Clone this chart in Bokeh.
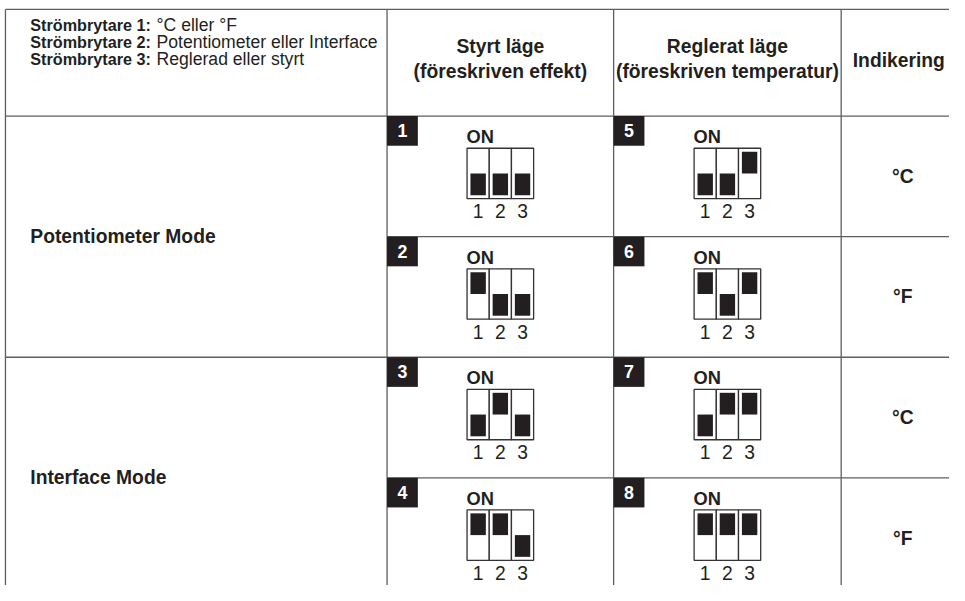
from bokeh.plotting import figure
from bokeh.models import Range1d
from bokeh.core.properties import value
from bokeh.embed import file_html
from bokeh.resources import INLINE

# ---------------- data ----------------
switch_names = ["Strömbrytare 1:", "Strömbrytare 2:", "Strömbrytare 3:"]
switch_meanings = ["°C eller °F", "Potentiometer eller Interface", "Reglerad eller styrt"]
column_titles = [["Styrt läge", "(föreskriven effekt)"],
                 ["Reglerat läge", "(föreskriven temperatur)"],
                 ["Indikering"]]
mode_labels = ["Potentiometer Mode", "Interface Mode"]
indications = ["°C", "°F", "°C", "°F"]
setting_numbers = [1, 2, 3, 4, 5, 6, 7, 8]
switch1_on = [0, 1, 0, 1, 0, 1, 0, 1]
switch2_on = [0, 0, 1, 1, 0, 0, 1, 1]
switch3_on = [0, 0, 0, 0, 1, 1, 1, 1]
dip_labels = ["1", "2", "3"]
on_label = "ON"

# ---------------- layout / style ----------------
FONT = "Liberation Sans"
INK = "#231f20"
GRID = "#5e5e5e"
W, H = 949, 585                   # figure size (fits the window with the page margin)
X0, X1, Y0, Y1 = 0, 955, 0, 592   # layout units (reference pixels) shown in the figure
S = 0.99                          # font scale so layout units fit the figure


def fs(px):
    return value(f"{px * S:.1f}px")


TXT = dict(text_font=value(FONT), text_color=INK, text_baseline="middle")

col_edges = [5, 389, 617, 846, 972]
top = 9
header_bottom = 117
row_h = 122
rows_top = [header_bottom + i * row_h for i in range(4)]
bottom = Y1

p = figure(width=W, height=H, x_range=Range1d(X0, X1), y_range=Range1d(Y1, Y0),
           output_backend="svg", toolbar_location=None, min_border=0,
           x_axis_location=None, y_axis_location=None)
p.grid.visible = False
p.outline_line_color = None
p.background_fill_color = "white"
p.border_fill_color = "white"

# ---- table lines ----
hx0 = [col_edges[0], col_edges[0], col_edges[0], col_edges[1], col_edges[1]]
hx1 = [col_edges[-1]] * 5
hy = [top, header_bottom, rows_top[2], rows_top[1], rows_top[3]]
p.segment(x0=hx0, y0=hy, x1=hx1, y1=hy, line_color=GRID, line_width=1.3)
vx = col_edges[:4]
p.segment(x0=vx, y0=[top] * 4, x1=vx, y1=[bottom] * 4, line_color=GRID, line_width=1.3)

# ---- header texts (y = vertical centre of capitals) ----
hl_y = [25, 42, 59]
p.text(x=[30] * 3, y=hl_y, text=switch_names, text_font_size=fs(16.4),
       text_font_style="bold", text_align="left", **TXT)
p.text(x=[157] * 3, y=hl_y, text=switch_meanings, text_font_size=fs(17.8),
       text_align="left", **TXT)

tx, ty, tt = [], [], []
for ci, lines in enumerate(column_titles):
    cx = (col_edges[ci + 1] + min(col_edges[ci + 2], 962)) / 2
    if len(lines) == 1:
        tx.append(cx); ty.append(61); tt.append(lines[0])
    else:
        for li, s in enumerate(lines):
            tx.append(cx); ty.append(47 + li * 25); tt.append(s)
p.text(x=tx, y=ty, text=tt, text_font_size=fs(19.5), text_font_style="bold",
       text_align="center", **TXT)

# ---- mode labels ----
my = [rows_top[2 * i] + row_h - 0.5 for i in range(2)]
p.text(x=[30] * 2, y=my, text=mode_labels, text_font_size=fs(19.5),
       text_font_style="bold", text_align="left", **TXT)

# ---- indications ----
ic = (col_edges[3] + 970) / 2
iy = [rt + row_h / 2 for rt in rows_top]
p.text(x=[ic] * 4, y=iy, text=indications, text_font_size=fs(19.5),
       text_font_style="bold", text_align="center", **TXT)

# ---- DIP switch diagrams ----
bw, bh_top, bh_bot = 67.0, 32.5, 83.5
cw = bw / 3
kw, kh, kin = 15.5, 22.0, 3.5
badge_l, badge_r, badge_t, badge_b, badge_tx, badge_ty = [], [], [], [], [], []
on_x, on_y = [], []
cell_l, cell_r, cell_t, cell_b = [], [], [], []
kn_l, kn_r, kn_t, kn_b = [], [], [], []
dg_x, dg_y, dg_t = [], [], []
for k, num in enumerate(setting_numbers):
    col = 1 + k // 4
    r = k % 4
    T = rows_top[r]
    cl, cr = col_edges[col], col_edges[col + 1]
    C = (cl + cr) / 2
    bl = C - bw / 2
    badge_l.append(cl); badge_r.append(cl + 31); badge_t.append(T); badge_b.append(T + 30)
    badge_tx.append(cl + 15.5); badge_ty.append(T + 14.5)
    on_x.append(bl - 0.5); on_y.append(T + 21)
    states = [switch1_on[k], switch2_on[k], switch3_on[k]]
    for j in range(3):
        l = bl + j * cw
        cell_l.append(l); cell_r.append(l + cw); cell_t.append(T + bh_top); cell_b.append(T + bh_bot)
        mc = l + cw / 2
        kn_l.append(mc - kw / 2); kn_r.append(mc + kw / 2)
        if states[j]:
            kn_t.append(T + bh_top + kin); kn_b.append(T + bh_top + kin + kh)
        else:
            kn_b.append(T + bh_bot - kin); kn_t.append(T + bh_bot - kin - kh)
        dg_x.append(mc); dg_y.append(T + 96); dg_t.append(dip_labels[j])

p.quad(left=cell_l, right=cell_r, top=cell_t, bottom=cell_b, fill_color="white",
       line_color="#333333", line_width=1.3)
p.quad(left=kn_l, right=kn_r, top=kn_t, bottom=kn_b, fill_color=INK, line_color=None)
p.quad(left=badge_l, right=badge_r, top=badge_t, bottom=badge_b, fill_color=INK, line_color=None)
p.text(x=badge_tx, y=badge_ty, text=[str(n) for n in setting_numbers], text_font=value(FONT),
       text_font_size=fs(18), text_font_style="bold", text_color="white",
       text_align="center", text_baseline="middle")
p.text(x=on_x, y=on_y, text=[on_label] * len(on_x), text_font_size=fs(18.5),
       text_font_style="bold", text_align="left", **TXT)
p.text(x=dg_x, y=dg_y, text=dg_t, text_font_size=fs(19.5), text_align="center", **TXT)

open("out.html", "w").write(file_html(p, INLINE))
